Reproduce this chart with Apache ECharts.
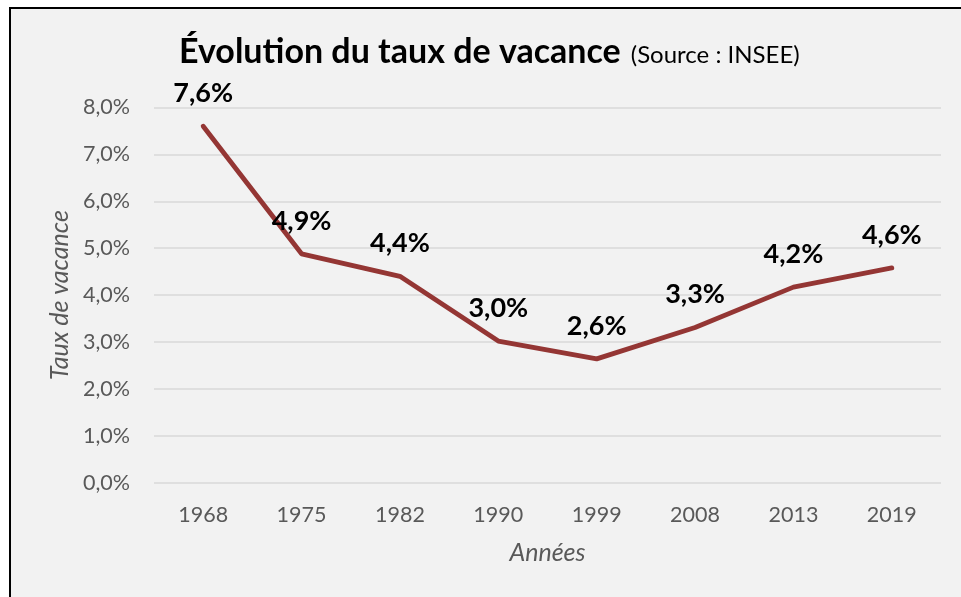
<!DOCTYPE html>
<html>
<head>
<meta charset="utf-8">
<script src="https://cdn.jsdelivr.net/npm/echarts@6/dist/echarts.min.js"></script>
<style>
  html, body { margin: 0; padding: 0; background: #ffffff; }
  #chart { width: 961px; height: 597px; }
</style>
</head>
<body>
<div id="chart"></div>
<script>
// Census years and vacancy rate (%)
const years = ['1968', '1975', '1982', '1990', '1999', '2008', '2013', '2019'];
const vacancyRate = [7.6, 4.88, 4.4, 3.02, 2.64, 3.31, 4.17, 4.58];
const yTicks = { min: 0, max: 8, interval: 1 };

const FONT = 'Lato, "Open Sans", sans-serif';
const fmtPct = v => v.toFixed(1).replace('.', ',') + '%';

const chart = echarts.init(document.getElementById('chart'), null, { renderer: 'canvas' });

chart.setOption({
  backgroundColor: '#ffffff',
  animation: false,
  graphic: [{
    type: 'rect',
    z: -10,
    shape: { x: 10, y: 8, width: 980, height: 620 },
    style: { fill: '#f2f2f2', stroke: '#000000', lineWidth: 2 }
  }],
  title: {
    left: 174,
    top: 30,
    text: '{a|Évolution du taux de vacance}  {b|(Source : INSEE)}',
    textStyle: {
      rich: {
        a: { fontFamily: FONT, fontSize: 34, fontWeight: 'bold', color: '#000000' },
        b: { fontFamily: FONT, fontSize: 24, fontWeight: 'normal', color: '#000000', padding: [7, 0, 0, 0] }
      }
    }
  },
  grid: { left: 154, right: 20, top: 107.5, bottom: 114.3 },
  xAxis: {
    type: 'category',
    data: years,
    boundaryGap: true,
    axisLine: { show: false },
    axisTick: { show: false },
    axisLabel: { fontFamily: FONT, fontSize: 21.5, color: '#595959', margin: 21 },
    name: 'Années',
    nameLocation: 'middle',
    nameGap: 58,
    nameTextStyle: { fontFamily: FONT, fontSize: 25, fontStyle: 'italic', color: '#595959' }
  },
  yAxis: {
    type: 'value',
    min: yTicks.min,
    max: yTicks.max,
    interval: yTicks.interval,
    axisLine: { show: false },
    axisTick: { show: false },
    splitLine: { lineStyle: { color: '#d9d9d9', width: 1.5 } },
    axisLabel: { fontFamily: FONT, fontSize: 21.5, color: '#595959', margin: 24, formatter: fmtPct },
    name: 'Taux de vacance',
    nameLocation: 'middle',
    nameGap: 78,
    nameRotate: 90,
    nameTextStyle: { fontFamily: FONT, fontSize: 25, fontStyle: 'italic', color: '#595959' }
  },
  series: [{
    type: 'line',
    data: vacancyRate,
    symbol: 'circle',
    symbolSize: 1,
    showSymbol: true,
    clip: false,
    itemStyle: { color: 'rgba(0,0,0,0)', borderWidth: 0 },
    lineStyle: { color: '#943634', width: 4.8, cap: 'round', join: 'round' },
    label: {
      show: true,
      position: 'top',
      distance: 19,
      fontFamily: FONT,
      fontSize: 27,
      fontWeight: 'bold',
      color: '#000000',
      formatter: p => fmtPct(p.value)
    },
    labelLayout: { hideOverlap: false }
  }]
});
</script>
</body>
</html>
